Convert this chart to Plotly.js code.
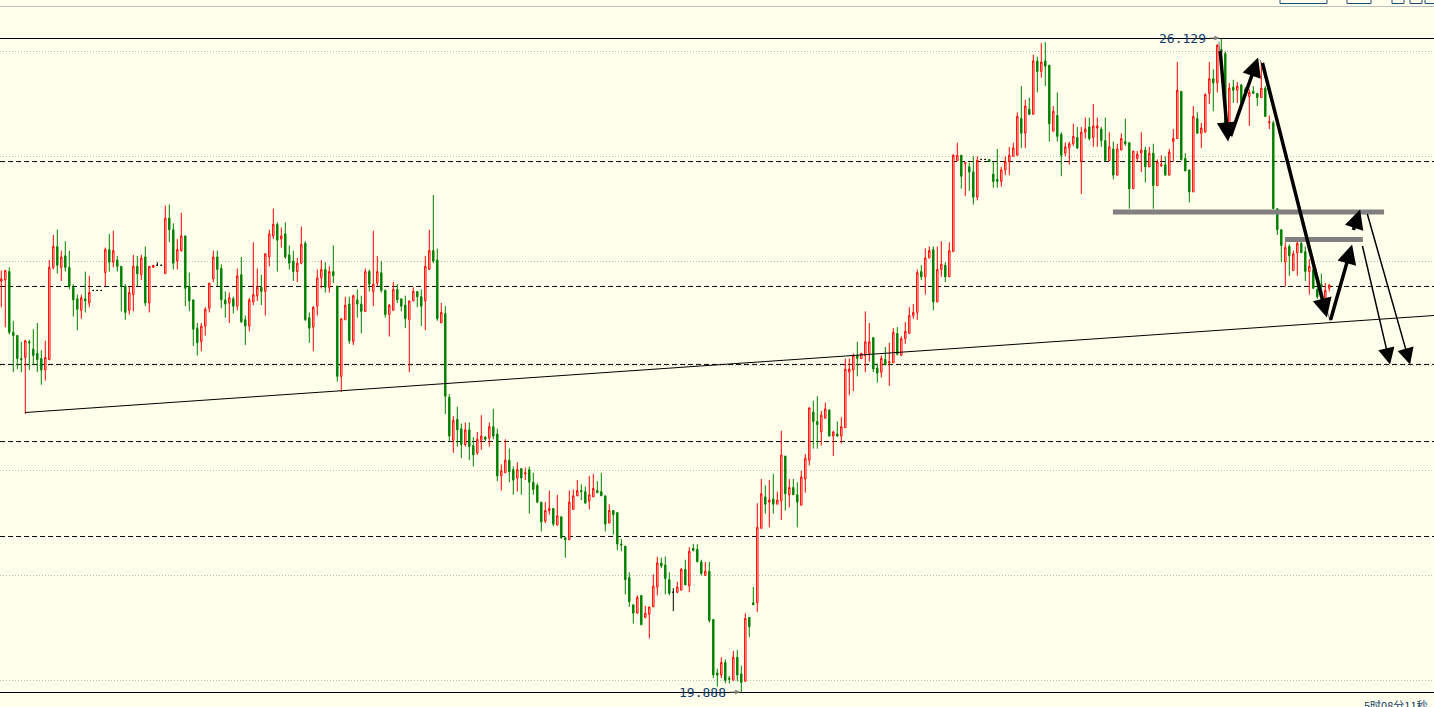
<!DOCTYPE html>
<html><head><meta charset="utf-8">
<script src="https://cdn.plot.ly/plotly-3.0.1.min.js"></script>
<style>html,body{margin:0;padding:0;background:#FFFFEB;overflow:hidden}#chart{width:1434px;height:707px}</style>
</head><body><div id="chart"></div>
<script>
// OHLC values (one entry per bar, oldest first)
const opens = [23.81,23.82,23.90,23.32,23.29,23.07,23.08,23.23,23.16,23.12,
23.07,22.96,23.06,23.94,24.14,23.94,24.05,23.94,23.75,23.64,
23.53,23.64,23.60,23.72,23.72,23.72,23.89,24.11,23.99,24.01,
23.95,23.76,23.53,23.68,23.95,23.87,24.04,23.60,23.94,23.96,
23.96,23.88,24.41,24.30,24.00,24.10,24.24,23.76,23.63,23.36,
23.23,23.38,23.55,23.83,24.04,23.93,23.63,23.60,23.64,23.57,
23.87,23.44,23.38,23.61,23.67,23.75,23.71,24.04,24.24,24.35,
24.21,24.26,24.06,24.00,23.90,23.98,24.17,23.46,23.37,23.57,
23.84,23.92,23.75,23.90,23.76,22.90,23.44,23.59,23.23,23.63,
23.59,23.52,23.90,23.71,23.79,23.89,23.72,23.49,23.53,23.73,
23.64,23.58,23.44,23.62,23.71,23.66,23.62,23.92,24.10,24.01,
23.41,23.50,22.70,22.29,22.49,22.40,22.25,22.39,22.24,22.17,
22.29,22.32,22.31,22.42,22.35,21.95,21.98,22.10,22.01,21.93,
22.02,21.97,22.01,21.89,21.86,21.70,21.52,21.62,21.64,21.48,
21.56,21.36,21.34,21.63,21.76,21.81,21.80,21.71,21.75,21.81,
21.80,21.76,21.50,21.62,21.60,21.30,21.28,20.98,20.72,20.64,
20.81,20.60,20.63,20.70,20.89,21.12,21.10,20.96,20.84,20.84,
20.86,21.06,20.90,21.26,21.25,21.13,21.00,21.04,20.58,20.07,
20.05,20.17,20.02,20.00,20.22,20.06,19.99,20.60,20.74,20.74,
21.45,21.75,21.70,21.73,21.68,21.71,22.14,21.77,21.84,21.77,
21.67,21.92,22.10,22.56,22.47,22.37,22.50,22.58,22.33,22.35,
22.33,22.41,22.94,22.96,23.10,23.07,23.10,23.12,23.27,22.98,
22.94,23.06,23.03,23.03,23.31,23.10,23.26,23.31,23.48,23.51,
23.90,23.85,24.03,24.11,23.61,23.92,23.96,23.85,24.09,24.96,
25.01,24.93,24.90,24.85,24.61,24.97,24.97,24.97,24.83,24.78,
24.76,24.87,24.95,25.00,25.01,25.36,25.22,25.45,25.40,25.91,
25.81,25.91,25.87,25.24,25.39,25.21,25.03,25.08,25.12,25.18,
24.95,25.23,25.28,25.18,25.27,25.26,25.15,24.96,25.07,24.82,
25.06,25.14,25.13,24.69,24.98,25.03,25.06,24.90,25.03,24.72,
24.91,24.92,24.82,25.14,25.17,25.62,24.98,24.87,24.66,25.36,
25.22,25.23,25.60,25.74,25.70,26.02,25.98,25.26,25.66,25.63,
25.68,25.64,25.57,25.62,25.60,25.56,25.65,25.32,25.32,24.50,
24.30,23.99,24.14,23.91,24.08,24.17,24.09,23.90,23.92,23.73,
23.78,23.61,23.74];
const highs = [23.91,23.91,23.94,23.43,23.29,23.23,23.25,23.25,23.35,23.41,
23.15,23.24,24.01,24.25,24.30,24.10,24.19,24.10,23.78,23.68,
23.68,23.90,23.86,23.72,23.72,23.72,24.13,24.26,24.29,24.05,
23.95,23.78,23.76,24.06,24.05,24.06,24.14,23.95,23.96,23.99,
23.96,24.53,24.54,24.36,24.21,24.46,24.24,23.89,23.63,23.41,
23.41,23.56,23.79,24.10,24.10,23.97,23.71,23.70,23.66,23.93,
24.04,23.48,23.65,24.18,23.93,23.87,24.07,24.30,24.50,24.37,
24.32,24.37,24.15,24.10,24.03,24.33,24.19,23.51,23.57,23.92,
24.01,23.99,23.95,24.15,23.76,23.45,23.66,23.66,23.68,23.73,
23.67,23.93,23.92,24.29,24.05,24.00,23.73,23.59,23.80,23.78,
23.64,23.67,23.62,23.75,23.71,23.73,24.05,24.30,24.63,24.12,
23.60,23.57,22.73,22.52,22.61,22.45,22.46,22.46,22.32,22.37,
22.53,22.33,22.46,22.59,22.40,22.06,22.30,22.21,22.04,22.08,
22.02,22.03,22.04,21.98,21.88,21.70,21.70,21.81,21.64,21.77,
21.56,21.37,21.81,21.82,21.91,21.87,21.85,21.95,21.97,21.90,
21.98,21.76,21.68,21.62,21.60,21.35,21.28,21.03,20.72,20.81,
20.81,20.71,20.70,21.01,21.18,21.17,21.18,21.03,20.88,20.94,
21.07,21.15,21.27,21.30,21.30,21.15,21.13,21.13,20.58,20.11,
20.22,20.20,20.04,20.28,20.29,20.14,20.64,20.60,20.89,21.69,
21.92,21.86,21.91,21.97,21.80,22.38,22.14,21.92,21.92,21.89,
22.00,22.16,22.60,22.67,22.71,22.57,22.65,22.58,22.38,22.47,
22.51,23.07,23.07,23.12,23.23,23.12,23.52,23.41,23.27,23.02,
23.10,23.18,23.22,23.36,23.37,23.28,23.42,23.56,23.59,23.92,
23.96,24.12,24.14,24.14,24.14,24.19,23.99,24.18,25.02,25.13,
25.01,24.94,24.94,25.00,25.00,24.97,24.97,24.97,24.95,25.07,
24.90,25.00,25.09,25.13,25.42,25.67,25.54,25.56,25.97,25.95,
26.08,26.09,25.87,25.48,25.61,25.23,25.13,25.14,25.31,25.28,
25.28,25.37,25.37,25.50,25.37,25.28,25.37,25.23,25.14,25.12,
25.22,25.36,25.13,25.05,25.05,25.23,25.09,25.09,25.12,24.97,
25.01,25.00,25.07,25.26,25.90,25.62,25.03,24.87,25.48,25.42,
25.32,25.60,25.90,25.83,26.07,26.129,26.00,25.70,25.73,25.71,
25.69,25.66,25.64,25.67,25.60,25.90,25.67,25.39,25.34,24.50,
24.30,24.18,24.16,24.10,24.19,24.19,24.14,24.02,23.95,23.78,
23.88,23.79,23.78];
const lows = [23.56,23.37,23.30,22.94,22.97,22.94,22.54,22.96,23.01,22.94,
22.82,22.86,23.06,23.92,23.88,23.81,23.90,23.73,23.47,23.34,
23.45,23.51,23.56,23.72,23.72,23.72,23.76,23.90,23.94,23.90,
23.52,23.44,23.49,23.52,23.76,23.82,23.57,23.51,23.94,23.96,
23.96,23.88,24.18,23.92,23.92,24.09,23.57,23.52,23.19,23.10,
23.14,23.29,23.51,23.80,23.76,23.55,23.46,23.41,23.50,23.53,
23.41,23.20,23.33,23.58,23.62,23.58,23.48,23.95,24.21,23.90,
24.13,24.02,23.92,23.81,23.80,23.97,23.43,23.22,23.14,23.48,
23.74,23.70,23.70,23.79,22.85,22.75,23.44,23.21,23.20,23.46,
23.31,23.52,23.71,23.57,23.76,23.70,23.46,23.28,23.53,23.60,
23.52,23.36,22.94,23.62,23.56,23.38,23.34,23.92,23.98,23.43,
23.41,22.54,22.28,22.17,22.23,22.12,22.23,22.10,22.04,22.15,
22.20,22.28,22.23,22.30,21.90,21.81,21.98,21.89,21.77,21.80,
21.77,21.91,21.59,21.77,21.69,21.42,21.50,21.58,21.47,21.48,
21.35,21.17,21.34,21.63,21.76,21.72,21.69,21.63,21.75,21.79,
21.76,21.42,21.50,21.39,21.24,21.23,20.82,20.70,20.54,20.64,
20.53,20.59,20.40,20.70,20.81,21.07,20.82,20.81,20.66,20.83,
20.86,20.91,20.84,21.23,21.13,21.00,21.00,20.55,20.02,19.94,
20.02,19.97,19.97,20.00,19.99,19.888,19.99,20.41,20.72,20.65,
21.45,21.59,21.46,21.59,21.68,21.53,21.62,21.65,21.77,21.46,
21.67,21.79,22.05,22.21,22.21,22.24,22.50,22.33,22.14,22.33,
22.26,22.41,22.72,22.76,22.90,23.07,22.94,23.04,22.94,22.84,
22.89,23.01,22.81,23.03,23.10,23.10,23.21,23.31,23.45,23.44,
23.82,23.68,24.03,23.53,23.61,23.85,23.80,23.85,24.09,24.96,
24.69,24.62,24.67,24.54,24.58,24.97,24.97,24.95,24.70,24.70,
24.71,24.82,24.82,25.00,25.01,25.08,25.08,25.40,25.40,25.61,
25.75,25.67,25.14,25.24,25.14,24.81,25.00,24.92,25.10,25.07,
24.64,25.17,25.15,25.09,25.09,25.09,24.95,24.96,24.78,24.82,
25.06,25.10,24.50,24.69,24.95,24.85,24.75,24.90,24.50,24.72,
24.90,24.82,24.82,24.95,25.17,24.96,24.86,24.56,24.66,25.22,
25.08,25.23,25.50,25.43,25.61,25.92,25.26,25.26,25.51,25.51,
25.51,25.59,25.29,25.60,25.48,25.56,25.38,25.26,24.50,24.25,
23.99,23.76,23.86,23.91,23.86,24.08,23.81,23.68,23.74,23.64,
23.67,23.58,23.71];
const closes = [23.83,23.91,23.32,23.29,23.07,23.06,23.24,23.22,23.10,23.06,
22.96,23.08,23.94,24.14,23.96,24.04,23.94,23.76,23.63,23.54,
23.65,23.62,23.70,23.72,23.72,23.72,24.11,23.99,24.10,23.95,
23.76,23.51,23.70,23.95,23.88,24.03,23.60,23.95,23.96,23.96,
23.96,24.41,24.30,23.98,24.11,24.24,23.74,23.62,23.35,23.22,
23.38,23.54,23.79,24.04,23.92,23.63,23.59,23.65,23.57,23.86,
23.42,23.38,23.63,23.68,23.75,23.71,24.07,24.26,24.35,24.20,
24.24,24.04,23.98,23.90,23.98,24.16,23.44,23.36,23.56,23.84,
23.92,23.75,23.90,23.86,22.90,23.45,23.58,23.24,23.67,23.59,
23.52,23.90,23.78,23.78,23.90,23.72,23.49,23.58,23.73,23.63,
23.57,23.45,23.62,23.71,23.66,23.57,23.95,24.10,24.00,23.45,
23.51,22.71,22.33,22.48,22.39,22.25,22.39,22.23,22.15,22.30,
22.33,22.30,22.42,22.33,21.95,22.00,22.10,21.99,21.91,22.01,
21.93,21.98,21.89,21.82,21.70,21.51,21.62,21.64,21.49,21.57,
21.36,21.34,21.70,21.76,21.81,21.80,21.69,21.77,21.83,21.79,
21.76,21.49,21.62,21.58,21.30,21.29,20.96,20.75,20.64,20.79,
20.53,20.64,20.70,20.90,21.12,21.09,20.97,20.83,20.84,20.89,
21.06,20.91,21.23,21.24,21.13,21.02,21.04,20.57,20.05,20.05,
20.17,20.00,20.01,20.22,20.05,19.98,20.59,20.51,20.72,21.46,
21.78,21.68,21.72,21.68,21.72,22.15,21.78,21.84,21.77,21.70,
21.94,22.12,22.60,22.47,22.44,22.53,22.59,22.33,22.37,22.33,
22.42,22.97,22.97,23.10,23.07,23.12,23.23,23.23,22.97,22.93,
23.07,23.01,23.04,23.32,23.11,23.26,23.33,23.48,23.51,23.89,
23.85,24.03,24.10,23.61,23.92,23.97,23.85,24.10,25.01,25.01,
24.81,24.94,24.85,24.61,24.96,24.97,24.97,24.95,24.76,24.76,
24.87,24.95,25.01,25.08,25.38,25.22,25.48,25.40,25.91,25.81,
25.90,25.86,25.31,25.43,25.19,25.01,25.09,25.12,25.19,25.08,
25.23,25.26,25.17,25.29,25.29,25.15,24.96,25.09,24.82,25.07,
25.17,25.12,24.69,25.05,25.02,25.06,24.90,25.03,24.72,24.95,
24.92,24.82,25.04,25.17,25.63,24.97,24.86,24.66,25.38,25.22,
25.27,25.59,25.74,25.70,26.06,25.99,25.26,25.65,25.63,25.67,
25.51,25.59,25.61,25.60,25.56,25.65,25.38,25.33,24.50,24.30,
24.15,24.13,24.05,24.07,24.17,24.08,23.90,23.95,23.74,23.66,
23.75,23.72,23.77];

// reference price levels drawn on the chart
const gridLevels = [20, 21, 22, 23, 24, 25, 26];
const dashedLevels = [24.950, 23.758, 23.014, 22.278, 21.372];
const priceMax = 26.129, priceMin = 19.888;
const maxBar = 305, minBar = 185;
// gray support bars: [startBar, endBar, price]
const supportBars = [[277.9, 345.7, 24.469], [320.9, 340.4, 24.206]];
// trend line: [bar, price] -> [bar, price]
const trendLine = [[5.9, 22.555], [358.2, 23.481]];
// thin wave lines
const waveLines = [[[304.4, 26.096], [306.7, 25.160]], [[314.7, 25.924], [332.2, 23.424]]];
// arrows: [tailBar, tailPrice, headBar, headPrice, width]
const arrows = [
  [304.7, 26.019, 306.7, 25.141, 3.5],
  [307.2, 25.179, 314.2, 25.943, 3.5],
  [315.2, 25.905, 331.4, 23.462, 3.5],
  [332.2, 23.424, 337.7, 24.158, 3.5],
  [337.9, 24.282, 339.7, 24.492, 3.5],
  [340.2, 24.158, 347.2, 23.013, 1.5],
  [341.4, 24.463, 352.2, 23.013, 1.5]
];

const idx = opens.map((_, i) => i);
const isDoji = i => opens[i] === closes[i];
const main = idx.filter(i => !isDoji(i));
const doji = idx.filter(i => isDoji(i));
const pick = (arr, sel) => sel.map(i => arr[i]);

const BG = '#FFFFEB';
const traces = [
  {type: 'candlestick', x: main, open: pick(opens, main), high: pick(highs, main),
   low: pick(lows, main), close: pick(closes, main), whiskerwidth: 0, hoverinfo: 'none',
   increasing: {line: {color: '#FF0000', width: 1}, fillcolor: BG},
   decreasing: {line: {color: '#008000', width: 1}, fillcolor: '#008000'}, showlegend: false},
  {type: 'candlestick', x: doji, open: pick(opens, doji), high: pick(highs, doji),
   low: pick(lows, doji), close: pick(closes, doji), whiskerwidth: 0, hoverinfo: 'none',
   increasing: {line: {color: '#000000', width: 1}, fillcolor: '#000000'},
   decreasing: {line: {color: '#000000', width: 1}, fillcolor: '#000000'}, showlegend: false}
];

const PH = 654; // plot height in px
const shapes = [];
dashedLevels.forEach(p => shapes.push({type: 'line', xref: 'paper', x0: 0, x1: 1, yref: 'y', y0: p, y1: p,
  line: {color: '#000000', width: 1, dash: '5px,3px'}, layer: 'below'}));
shapes.push({type: 'line', xref: 'paper', x0: 0, x1: 1, yref: 'paper', y0: 1 - 0.5 / PH, y1: 1 - 0.5 / PH, line: {color: '#000', width: 1}});
shapes.push({type: 'line', xref: 'paper', x0: 0, x1: 1, yref: 'paper', y0: -0.5 / PH, y1: -0.5 / PH, line: {color: '#000', width: 1}});
shapes.push({type: 'line', xref: 'paper', x0: 0, x1: 1, yref: 'paper', y0: 685.5 / PH, y1: 685.5 / PH, line: {color: '#BDBDBD', width: 1}});
shapes.push({type: 'line', x0: trendLine[0][0], y0: trendLine[0][1], x1: trendLine[1][0], y1: trendLine[1][1],
  line: {color: '#000000', width: 1}});
waveLines.forEach(l => shapes.push({type: 'line', x0: l[0][0], y0: l[0][1], x1: l[1][0], y1: l[1][1],
  line: {color: '#808080', width: 1}}));
supportBars.forEach(b => shapes.push({type: 'line', x0: b[0], x1: b[1], y0: b[2], y1: b[2],
  line: {color: '#808080', width: 5}}));
// toolbar button outlines at the very top
[[1280, 1327], [1347, 1371], [1392, 1404], [1410, 1422], [1425, 1440]].forEach(r => shapes.push({
  type: 'rect', xref: 'paper', yref: 'paper', x0: r[0] / 1434, x1: r[1] / 1434, y0: 688.5 / PH, y1: 700 / PH,
  line: {color: '#1F4E79', width: 1}}));

const annotations = [];
arrows.forEach(a => annotations.push({x: a[2], y: a[3], ax: a[0], ay: a[1], axref: 'x', ayref: 'y',
  xref: 'x', yref: 'y', text: '', showarrow: true, arrowhead: 2, arrowsize: a[4] > 2 ? 1.1 : 2.2,
  arrowwidth: a[4], arrowcolor: '#000000', standoff: 0, startstandoff: 0}));
const lblFont = {family: 'DejaVu Sans Mono, monospace', size: 13, color: '#123A6B'};
annotations.push({x: maxBar - 3.4, y: priceMax, xref: 'x', yref: 'y', text: priceMax.toFixed(3),
  showarrow: false, xanchor: 'right', yanchor: 'middle', font: lblFont});
annotations.push({x: maxBar - 0.5, y: priceMax, ax: maxBar - 3.2, ay: priceMax, axref: 'x', ayref: 'y',
  text: '', showarrow: true, arrowhead: 2, arrowsize: 1, arrowwidth: 1, arrowcolor: '#808080'});
annotations.push({x: minBar - 3.3, y: priceMin, xref: 'x', yref: 'y', text: priceMin.toFixed(3),
  showarrow: false, xanchor: 'right', yanchor: 'middle', font: lblFont});
annotations.push({x: minBar - 0.3, y: priceMin, ax: minBar - 3.1, ay: priceMin, axref: 'x', ayref: 'y',
  text: '', showarrow: true, arrowhead: 2, arrowsize: 1, arrowwidth: 1, arrowcolor: '#808080'});
annotations.push({xref: 'paper', yref: 'paper', x: 1362 / 1434, y: -13 / PH, xanchor: 'left', yanchor: 'middle',
  text: '5时08分11秒', showarrow: false, font: {family: 'Noto Sans CJK SC', size: 11, color: '#123A6B'}});

const layout = {
  width: 1434, height: 707, margin: {l: 0, r: 0, t: 38, b: 15},
  paper_bgcolor: BG, plot_bgcolor: BG, showlegend: false, boxgap: 0.5, dragmode: false,
  xaxis: {range: [-0.325, 358.175], showgrid: false, zeroline: false, showticklabels: false, ticks: '',
          rangeslider: {visible: false}, fixedrange: true},
  yaxis: {range: [priceMin, priceMax], tickvals: gridLevels, showticklabels: false, ticks: '',
          showgrid: true, gridcolor: '#BDBDBD', griddash: '1px,2px', gridwidth: 1, zeroline: false, fixedrange: true},
  shapes: shapes, annotations: annotations
};
Plotly.newPlot('chart', traces, layout, {staticPlot: true});
</script></body></html>
